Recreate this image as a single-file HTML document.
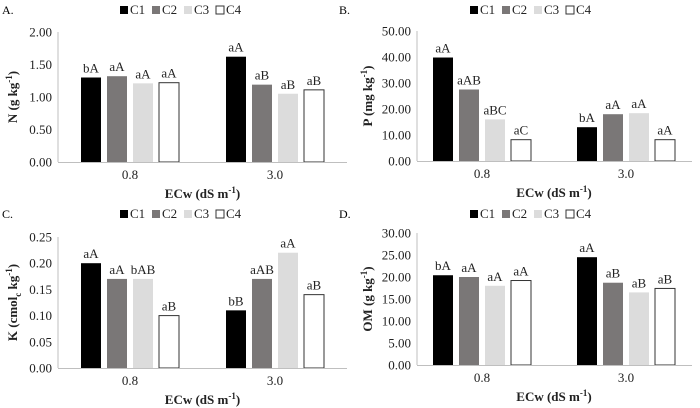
<!DOCTYPE html>
<html><head><meta charset="utf-8"><style>
body{margin:0;background:#fff}
svg{display:block}
svg text{font-family:"Liberation Serif","Times New Roman",serif}
</style></head><body>
<svg id="chart" width="700" height="408" viewBox="0 0 700 408" xmlns="http://www.w3.org/2000/svg" font-family="Liberation Serif, serif"></svg>
<script>
const categories = ["0.8", "3.0"];
const seriesNames = ["C1", "C2", "C3", "C4"];
const nValues = [[1.30, 1.32, 1.21, 1.22], [1.62, 1.19, 1.05, 1.11]];
const nLetters = [["bA", "aA", "aA", "aA"], ["aA", "aB", "aB", "aB"]];
const pValues = [[39.8, 27.5, 16.0, 8.2], [13.0, 18.0, 18.4, 8.2]];
const pLetters = [["aA", "aAB", "aBC", "aC"], ["bA", "aA", "aA", "aA"]];
const kValues = [[0.20, 0.17, 0.17, 0.10], [0.11, 0.17, 0.22, 0.14]];
const kLetters = [["aA", "aA", "bAB", "aB"], ["bB", "aAB", "aA", "aB"]];
const omValues = [[20.4, 20.0, 18.0, 19.2], [24.5, 18.7, 16.5, 17.4]];
const omLetters = [["bA", "aA", "aA", "aA"], ["aA", "aB", "aB", "aB"]];
const nTicks = ["0.00", "0.50", "1.00", "1.50", "2.00"];
const pTicks = ["0.00", "10.00", "20.00", "30.00", "40.00", "50.00"];
const kTicks = ["0.00", "0.05", "0.10", "0.15", "0.20", "0.25"];
const omTicks = ["0.00", "5.00", "10.00", "15.00", "20.00", "25.00", "30.00"];

const svg = document.getElementById('chart');
const NS = "http://www.w3.org/2000/svg";
function mk(tag, attrs, parent, text){
  const e = document.createElementNS(NS, tag);
  for (const k in attrs) e.setAttribute(k, attrs[k]);
  if (tag === 'text') e.setAttribute('font-family', 'Liberation Serif, serif');
  if (text !== undefined) e.textContent = text;
  parent.appendChild(e);
  return e;
}
const fills = ["#000000", "#7a7777", "#dcdcdc", "#ffffff"];
const panels = [
  {id:"n", label:"A.", lx:2, ly:14, ax:58, ar:347, top:32, zero:162, c0:130, step:145, max:2.0, ticks:nTicks, vals:nValues, let:nLetters, yt:17, ytitle:["N (g kg", "-1", ")"], legX:180, legY:14},
  {id:"p", label:"B.", lx:339, ly:14, ax:417, ar:692, top:31, zero:161, c0:482, step:144, max:50, ticks:pTicks, vals:pValues, let:pLetters, yt:372, ytitle:["P (mg kg", "-1", ")"], legX:530, legY:14},
  {id:"k", label:"C.", lx:2, ly:218, ax:58, ar:347, top:237, zero:368, c0:130, step:145, max:0.25, ticks:kTicks, vals:kValues, let:kLetters, yt:17, ytitle:["K (cmol", "c", " kg", "-1", ")"], legX:180, legY:218},
  {id:"om", label:"D.", lx:339, ly:218, ax:417, ar:692, top:233, zero:365, c0:482, step:144, max:30, ticks:omTicks, vals:omValues, let:omLetters, yt:372, ytitle:["OM (g kg", "-1", ")"], legX:530, legY:218}
];
panels.forEach(p => {
  const g = mk('g', {}, svg);
  
  
  const y = v => p.zero - (v / p.max) * (p.zero - p.top);
  const pl = mk('text', {x:p.lx, y:p.ly, 'font-size':12}, g, p.label);
  
  
  p.ticks.forEach(t => {
    const tt = mk('text', {x:p.ax - 6, y:y(parseFloat(t)) + 4.5, 'font-size':13, 'text-anchor':'end', fill:'#222'}, g, t);
    
    
  });
  const ya = mk('line', {x1:p.ax, x2:p.ax, y1:p.top, y2:p.zero, stroke:'#bfbfbf', 'stroke-width':1}, g);
  
  
  categories.forEach((c, ci) => {
    const cx = p.c0 + ci * p.step;
    const ct = mk('text', {x:cx, y:p.zero + 17, 'font-size':13, 'text-anchor':'middle', fill:'#222'}, g, c);
    
    
    p.vals[ci].forEach((v, si) => {
      const bx = cx - 49 + si * 26;
      const r = mk('rect', {x:bx, y:y(v), width:20, height:p.zero - y(v), fill:fills[si], stroke: si === 3 ? '#333' : 'none', 'stroke-width':1}, g);
      
      
      const lt = mk('text', {x:bx + 10, y:y(v) - 5, 'font-size':13, 'text-anchor':'middle', fill:'#222'}, g, p.let[ci][si]);
      
      
    });
  });
  const xa = mk('line', {x1:p.ax, x2:p.ar, y1:p.zero + 0.5, y2:p.zero + 0.5, stroke:'#bfbfbf', 'stroke-width':1}, g);
  
  
  const xt = mk('text', {x:(p.c0 + p.c0 + p.step) / 2, y:p.zero + 36, 'font-size':13, 'font-weight':'bold', 'text-anchor':'middle', fill:'#222'}, g);
  
  
  mk('tspan', {}, xt, 'ECw (dS m');
  mk('tspan', {dy:-5, 'font-size':9}, xt, '-1');
  mk('tspan', {dy:5}, xt, ')');
  const yt = mk('text', {transform:`translate(${p.yt},${(p.top + p.zero) / 2}) rotate(-90)`, 'font-size':13, 'font-weight':'bold', 'text-anchor':'middle', fill:'#222'}, g);
  
  
  let shift = 0;
  p.ytitle.forEach(s => {
    if (s === '-1') { mk('tspan', {dy:-5, 'font-size':9}, yt, s); shift = 5; }
    else if (s === 'c') { mk('tspan', {dy:4, 'font-size':9}, yt, s); shift = -4; }
    else { mk('tspan', {dy:shift}, yt, s); shift = 0; }
  });
  const lg = mk('g', {}, g);
  
  
  seriesNames.forEach((s, si) => {
    const lx = p.legX - 60 + si * 32;
    const sw = mk('rect', {x:lx, y:p.legY - 8, width:8, height:8, fill:fills[si], stroke: si === 3 ? '#333' : 'none'}, lg);
    
    
    const tx = mk('text', {x:lx + 10, y:p.legY, 'font-size':13, fill:'#222'}, lg, s);
    
    
  });
});
</script>
</body></html>
